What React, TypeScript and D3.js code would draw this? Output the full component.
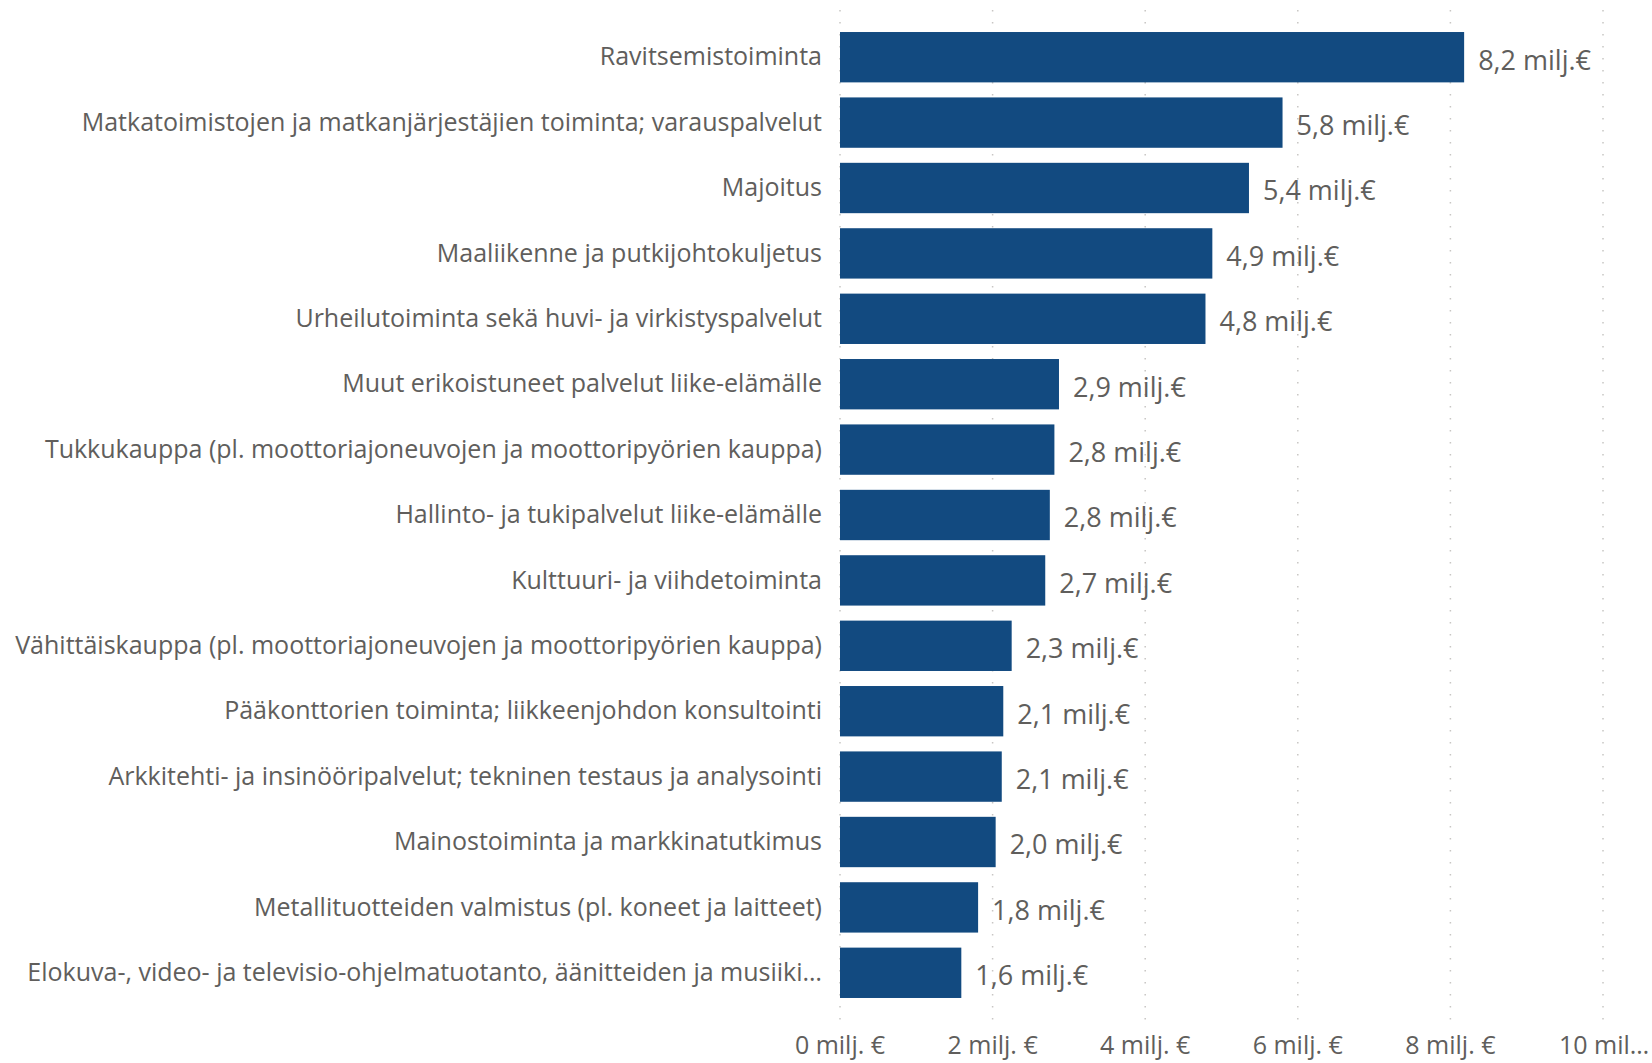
import * as React from 'react';
import {scaleBand, scaleLinear} from 'd3';

const categories = [
    'Ravitsemistoiminta',
    'Matkatoimistojen ja matkanjärjestäjien toiminta; varauspalvelut',
    'Majoitus',
    'Maaliikenne ja putkijohtokuljetus',
    'Urheilutoiminta sekä huvi- ja virkistyspalvelut',
    'Muut erikoistuneet palvelut liike-elämälle',
    'Tukkukauppa (pl. moottoriajoneuvojen ja moottoripyörien kauppa)',
    'Hallinto- ja tukipalvelut liike-elämälle',
    'Kulttuuri- ja viihdetoiminta',
    'Vähittäiskauppa (pl. moottoriajoneuvojen ja moottoripyörien kauppa)',
    'Pääkonttorien toiminta; liikkeenjohdon konsultointi',
    'Arkkitehti- ja insinööripalvelut; tekninen testaus ja analysointi',
    'Mainostoiminta ja markkinatutkimus',
    'Metallituotteiden valmistus (pl. koneet ja laitteet)',
    'Elokuva-, video- ja televisio-ohjelmatuotanto, äänitteiden ja musiiki…',
];

// milj. €
const values = [8.18, 5.80, 5.36, 4.88, 4.79, 2.87, 2.81, 2.75, 2.69, 2.25, 2.14, 2.12, 2.04, 1.81, 1.59];
const valueLabels = ['8,2', '5,8', '5,4', '4,9', '4,8', '2,9', '2,8', '2,8', '2,7', '2,3', '2,1', '2,1', '2,0', '1,8', '1,6'];

const ticks = [0, 2, 4, 6, 8, 10];
const tickLabels = ['0 milj. €', '2 milj. €', '4 milj. €', '6 milj. €', '8 milj. €', '10 mil…'];

const width = 1652;
const height = 1063;
const font = '"Segoe UI", "Open Sans", sans-serif';
const barColor = '#124a80';
const textColor = '#605e5c';

const xScale = scaleLinear().domain([0, 10]).range([840, 1603]);
const yScale = scaleBand()
    .domain(categories)
    .range([24.5, 1005.5])
    .paddingInner(0.23)
    .paddingOuter(0.115);

export default function App() {
    const grid = ticks.map((t, i) => (
        <line
            key={'g' + i}
            x1={xScale(t)}
            x2={xScale(t)}
            y1={10}
            y2={1026}
            stroke="#c8c6c4"
            strokeWidth={1.5}
            strokeDasharray="1.5,10.5"
        />
    ));

    const axisLabels = ticks.map((t, i) => {
        const last = i === ticks.length - 1;
        return (
            <text
                key={'t' + i}
                x={last ? xScale(t) - 44 : xScale(t)}
                y={1054}
                textAnchor={last ? 'start' : 'middle'}
                fontSize={25}
                fill={textColor}
            >
                {tickLabels[i]}
            </text>
        );
    });

    const rows = categories.map((c, i) => {
        const y = yScale(c)!;
        const bh = yScale.bandwidth();
        return (
            <g key={c}>
                <text
                    x={xScale(0) - 18}
                    y={y + bh / 2}
                    dy="0.33em"
                    textAnchor="end"
                    fontSize={25}
                    fill={textColor}
                >
                    {c}
                </text>
                <rect x={xScale(0)} y={y} width={xScale(values[i]) - xScale(0)} height={bh} fill={barColor}/>
                <text
                    x={xScale(values[i]) + 14}
                    y={y + bh / 2 + 3}
                    dy="0.35em"
                    fontSize={27}
                    fill={textColor}
                >
                    {valueLabels[i] + ' milj.€'}
                </text>
            </g>
        );
    });

    return (
        <svg
            width={width}
            height={height}
            style={{position: 'absolute', left: 0, top: 0, display: 'block', background: '#fff'}}
            fontFamily={font}
        >
            {grid}
            {rows}
            {axisLabels}
        </svg>
    );
}
